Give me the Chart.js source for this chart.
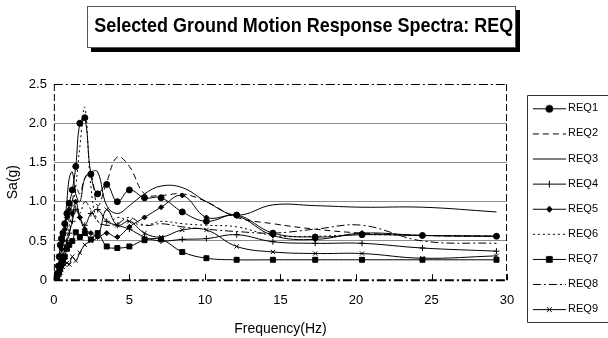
<!DOCTYPE html>
<html>
<head>
<meta charset="utf-8">
<script src="https://cdn.jsdelivr.net/npm/chart.js@4/dist/chart.umd.min.js"></script>
<style>
  html, body { margin: 0; padding: 0; background: #fff; }
  #wrap { width: 608px; height: 338px; }
</style>
</head>
<body>
<div id="wrap"><canvas id="spectraChart" width="608" height="338"></canvas></div>
<script>
// frequencies (Hz) where each record was sampled
const freqs = [0.1, 0.2, 0.3, 0.35, 0.42, 0.5, 0.6, 0.72, 0.86, 1.02, 1.22, 1.45, 1.72, 2.05, 2.45, 2.9, 3.5, 4.2, 5.0, 6.0, 7.1, 8.5, 10.1, 12.1, 14.5, 17.3, 20.4, 24.4, 29.3];

// Sa(g) per record
const req1 = [0.02, 0.08, 0.18, 0.3, 0.45, 0.53, 0.6, 0.72, 0.85, 0.98, 1.15, 1.45, 2.0, 2.07, 1.35, 1.1, 1.22, 1.0, 1.15, 1.05, 1.05, 0.87, 0.75, 0.83, 0.6, 0.55, 0.58, 0.57, 0.56];
const req2 = [0.01, 0.05, 0.12, 0.18, 0.25, 0.35, 0.45, 0.55, 0.65, 0.8, 1.0, 1.2, 1.1, 1.3, 1.35, 0.95, 1.25, 1.57, 1.45, 1.1, 1.08, 1.1, 1.0, 0.8, 0.72, 0.65, 0.6, 0.57, 0.56];
const req3 = [0.01, 0.04, 0.1, 0.15, 0.22, 0.3, 0.45, 0.7, 1.0, 1.3, 1.38, 1.1, 1.0, 1.3, 1.38, 1.38, 0.95, 0.85, 0.95, 1.1, 1.2, 1.18, 1.0, 0.83, 0.96, 0.95, 0.93, 0.93, 0.87];
const req4 = [0.01, 0.03, 0.08, 0.12, 0.17, 0.22, 0.3, 0.4, 0.5, 0.6, 0.75, 0.9, 0.8, 0.7, 0.85, 0.9, 0.75, 0.7, 0.65, 0.55, 0.5, 0.52, 0.53, 0.58, 0.49, 0.47, 0.47, 0.41, 0.37];
const req5 = [0.01, 0.05, 0.12, 0.2, 0.3, 0.4, 0.5, 0.65, 0.8, 0.9, 0.85, 1.0, 0.8, 0.65, 0.6, 0.55, 0.6, 0.55, 0.68, 0.8, 0.93, 1.08, 0.8, 0.82, 0.57, 0.52, 0.6, 0.57, 0.56];
const req6 = [0.01, 0.04, 0.1, 0.15, 0.2, 0.28, 0.35, 0.45, 0.55, 0.7, 0.9, 1.2, 1.7, 2.2, 1.2, 0.75, 0.7, 0.8, 0.75, 0.7, 0.75, 0.72, 0.7, 0.68, 0.57, 0.56, 0.58, 0.57, 0.56];
const req7 = [0.0, 0.03, 0.08, 0.1, 0.15, 0.2, 0.25, 0.3, 0.4, 0.45, 0.5, 0.61, 0.55, 0.6, 0.52, 0.6, 0.43, 0.41, 0.43, 0.51, 0.52, 0.36, 0.28, 0.26, 0.26, 0.26, 0.26, 0.26, 0.26];
const req8 = [0.01, 0.04, 0.08, 0.12, 0.17, 0.23, 0.3, 0.38, 0.48, 0.6, 0.8, 0.95, 0.85, 1.0, 0.9, 0.75, 0.7, 0.72, 0.8, 0.7, 0.72, 0.68, 0.65, 0.62, 0.6, 0.65, 0.7, 0.5, 0.47];
const req9 = [0.0, 0.02, 0.05, 0.07, 0.1, 0.13, 0.17, 0.2, 0.22, 0.2, 0.3, 0.25, 0.35, 0.45, 0.5, 0.55, 0.9, 0.7, 0.75, 0.6, 0.55, 0.64, 0.64, 0.43, 0.36, 0.34, 0.34, 0.28, 0.31];

const seriesNames = ['REQ1', 'REQ2', 'REQ3', 'REQ4', 'REQ5', 'REQ6', 'REQ7', 'REQ8', 'REQ9'];
const seriesValues = [req1, req2, req3, req4, req5, req6, req7, req8, req9];

const xTicks = [0, 5, 10, 15, 20, 25, 30];
const yTicks = [0, 0.5, 1, 1.5, 2, 2.5];

const font = "Arial, 'Liberation Sans', sans-serif";

// line + marker look of each record
const looks = [
  { dash: [], marker: 'circle', r: 3 },
  { dash: [6, 4], marker: false, r: 0 },
  { dash: [], marker: false, r: 0 },
  { dash: [], marker: 'cross', r: 3 },
  { dash: [], marker: 'rectRot', r: 2.5 },
  { dash: [2, 3], marker: false, r: 0 },
  { dash: [], marker: 'rect', r: 3.5 },
  { dash: [8, 3, 2, 3], marker: false, r: 0 },
  { dash: [], marker: 'crossRot', r: 3 }
];

// little line+marker picture used as the legend symbol
function legendIcon(look) {
  const c = document.createElement('canvas');
  c.width = 48; c.height = 12;
  const g = c.getContext('2d');
  g.strokeStyle = '#000'; g.fillStyle = '#000'; g.lineWidth = 1;
  g.setLineDash(look.dash);
  g.beginPath(); g.moveTo(15, 6.5); g.lineTo(48, 6.5); g.stroke();
  g.setLineDash([]);
  if (look.marker) {
    Chart.helpers.drawPoint(g, { pointStyle: look.marker, radius: look.r + 0.5, rotation: 0, borderWidth: 1 }, 31.5, 6.5);
  }
  return c;
}

const datasets = seriesNames.map((name, i) => ({
  label: name,
  data: freqs.map((f, j) => ({ x: f, y: seriesValues[i][j] })),
  borderColor: '#000',
  backgroundColor: '#000',
  borderWidth: 1,
  borderDash: looks[i].dash,
  pointStyle: looks[i].marker || 'circle',
  pointRadius: looks[i].marker ? looks[i].r : 0,
  pointBorderWidth: 1,
  tension: 0.4,
  fill: false
}));

const framePlugin = {
  id: 'frame',
  afterLayout(chart) {
    // squeeze the title horizontally, like the narrow font of the original
    const tb = chart.titleBlock;
    if (tb && !tb._squeezed) {
      const orig = tb.draw;
      tb.draw = function (...args) {
        const c = this.ctx;
        const cx = 302;
        c.save();
        c.translate(cx, 0); c.scale(0.855, 1); c.translate(-cx, 0);
        orig.apply(this, args);
        c.restore();
      };
      tb._squeezed = true;
    }
  },
  beforeDraw(chart) {
    const ctx = chart.ctx;
    ctx.save();
    // title box with shadow
    ctx.fillStyle = '#000';
    ctx.fillRect(91, 10, 429, 42);
    ctx.fillStyle = '#fff';
    ctx.fillRect(87, 6, 429, 42);
    ctx.strokeStyle = '#555';
    ctx.lineWidth = 1;
    ctx.strokeRect(87.5, 6.5, 428, 41);
    ctx.restore();
  },
  afterDraw(chart) {
    const ctx = chart.ctx;
    const a = chart.chartArea;
    ctx.save();
    ctx.strokeStyle = '#000';
    // dash-dot frame
    ctx.lineWidth = 1;
    ctx.setLineDash([9, 3, 2, 3]);
    ctx.beginPath(); ctx.moveTo(a.left, a.top + 0.5); ctx.lineTo(a.right, a.top + 0.5); ctx.stroke();
    ctx.lineWidth = 2;
    ctx.beginPath(); ctx.moveTo(a.left, a.bottom); ctx.lineTo(a.right, a.bottom); ctx.stroke();
    ctx.lineWidth = 1;
    ctx.setLineDash([7, 3]);
    ctx.beginPath(); ctx.moveTo(a.left + 0.5, a.top); ctx.lineTo(a.left + 0.5, a.bottom); ctx.stroke();
    ctx.beginPath(); ctx.moveTo(a.right - 0.5, a.top); ctx.lineTo(a.right - 0.5, a.bottom); ctx.stroke();
    ctx.setLineDash([]);
    // inner tick marks on the frequency axis
    const xs = chart.scales.x;
    xTicks.forEach(v => {
      const px = Math.round(xs.getPixelForValue(v)) + 0.5;
      ctx.beginPath(); ctx.moveTo(px, a.bottom); ctx.lineTo(px, a.bottom - 6); ctx.stroke();
    });
    // legend frame
    const hb = chart.legend.legendHitBoxes;
    if (hb && hb.length) {
      const first = hb[0], last = hb[hb.length - 1];
      const left = Math.round(first.left + 6) + 0.5;
      const top = Math.round(first.top - 8) + 0.5;
      const bottom = Math.round(last.top + last.height + 7) + 0.5;
      ctx.strokeStyle = '#333';
      ctx.beginPath();
      ctx.moveTo(chart.width + 2, top); ctx.lineTo(left, top); ctx.lineTo(left, bottom); ctx.lineTo(chart.width + 2, bottom);
      ctx.stroke();
    }
    ctx.restore();
  }
};

const ctx = document.getElementById('spectraChart').getContext('2d');
const spectraChart = new Chart(ctx, {
  type: 'line',
  data: { datasets: datasets },
  options: {
    responsive: false,
    animation: false,
    layout: { padding: 0 },
    plugins: {
      title: {
        display: true,
        text: 'Selected Ground Motion Response Spectra: REQ',
        color: '#000',
        font: { family: font, size: 21, weight: 'bold' },
        padding: { top: 13.4, bottom: 45.4 }
      },
      legend: {
        position: 'right',
        align: 'start',
        title: { display: true, text: ' ', font: { size: 10 }, padding: { top: 76.7, bottom: 0 } },
        labels: {
          usePointStyle: true,
          pointStyleWidth: 41.4,
          boxHeight: 11,
          padding: 14.1,
          color: '#000',
          font: { family: font, size: 11 },
          generateLabels(chart) {
            const items = Chart.defaults.plugins.legend.labels.generateLabels(chart);
            items.forEach((it, i) => { it.pointStyle = legendIcon(looks[i]); });
            return items;
          }
        }
      },
      tooltip: { enabled: false }
    },
    scales: {
      x: {
        type: 'linear',
        min: 0, max: 30,
        afterBuildTicks(scale) { scale.ticks = xTicks.map(v => ({ value: v })); },
        grid: { display: false, drawTicks: false },
        border: { display: false },
        ticks: { color: '#000', padding: 12.2, font: { family: font, size: 13 } },
        title: { display: true, text: 'Frequency(Hz)', color: '#000', padding: { top: 1, bottom: 0 }, font: { family: font, size: 14 } }
      },
      y: {
        min: 0, max: 2.5,
        afterBuildTicks(scale) { scale.ticks = yTicks.map(v => ({ value: v })); },
        grid: {
          drawTicks: false,
          color: c => (c.tick && (c.tick.value === 0 || c.tick.value === 2.5)) ? 'rgba(0,0,0,0)' : '#8c8c8c'
        },
        border: { display: false },
        ticks: { color: '#000', padding: 7, font: { family: font, size: 13 } },
        title: { display: true, text: 'Sa(g)', color: '#000', padding: { top: 5, bottom: 0 }, font: { family: font, size: 14 } }
      }
    }
  },
  plugins: [framePlugin]
});
</script>
</body>
</html>
